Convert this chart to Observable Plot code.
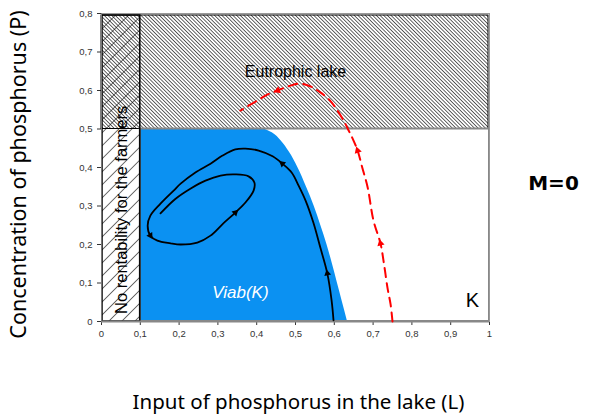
<!DOCTYPE html>
<html>
<head>
<meta charset="utf-8">
<script src="https://cdn.jsdelivr.net/npm/d3@7"></script>
<script src="https://cdn.jsdelivr.net/npm/@observablehq/plot@0.6"></script>
<style>
  html, body { margin: 0; padding: 0; background: #fff; }
</style>
</head>
<body>
<div id="chart"></div>
<script>
// ---- data ----
const xTicks = [0, 0.1, 0.2, 0.3, 0.4, 0.5, 0.6, 0.7, 0.8, 0.9, 1];
const yTicks = [0, 0.1, 0.2, 0.3, 0.4, 0.5, 0.6, 0.7, 0.8];

const noRentL = 0;      // no-rentability strip
const noRentR = 0.1;
const eutroP = 0.5;     // eutrophication threshold
const pMax = 0.8;
const lMax = 1;

// viability kernel right boundary
const viabP = [0, 0.05, 0.10, 0.15, 0.20, 0.25, 0.30, 0.35, 0.40, 0.44, 0.47, 0.49, 0.5];
const viabL = [0.634, 0.621, 0.608, 0.595, 0.581, 0.565, 0.548, 0.528, 0.506, 0.484, 0.462, 0.440, 0.420];

// black (viable) trajectory
const trajL = [0.598, 0.593, 0.582, 0.564, 0.546, 0.526, 0.508, 0.490, 0.466, 0.441, 0.405, 0.371, 0.345, 0.312, 0.281, 0.242, 0.204, 0.186, 0.152, 0.126, 0.119, 0.126, 0.144, 0.178, 0.204, 0.247, 0.281, 0.314, 0.345, 0.371, 0.392, 0.394, 0.379, 0.345, 0.307, 0.268, 0.229, 0.191, 0.152];
const trajP = [0.003, 0.055, 0.125, 0.192, 0.257, 0.314, 0.353, 0.387, 0.410, 0.429, 0.444, 0.449, 0.447, 0.431, 0.410, 0.387, 0.358, 0.340, 0.306, 0.275, 0.249, 0.223, 0.210, 0.203, 0.200, 0.205, 0.223, 0.255, 0.283, 0.309, 0.340, 0.361, 0.377, 0.382, 0.379, 0.366, 0.345, 0.319, 0.281];
const trajArrows = [2, 8, 21, 28];

// red (non-viable) trajectory
const redL = [0.750, 0.745, 0.737, 0.728, 0.719, 0.701, 0.686, 0.672, 0.660, 0.645, 0.637, 0.625, 0.608, 0.588, 0.564, 0.540, 0.513, 0.485, 0.454, 0.425, 0.402, 0.358];
const redP = [0.000, 0.045, 0.088, 0.150, 0.203, 0.262, 0.348, 0.400, 0.444, 0.480, 0.496, 0.520, 0.548, 0.575, 0.595, 0.610, 0.618, 0.612, 0.600, 0.588, 0.574, 0.548];
const redArrows = [4, 8, 18];

const labelsEutro = ["Eutrophic lake"];
const labelsNoRent = ["No rentability for the farmers"];
const labelsViab = ["Viab(K)"];
const labelsK = ["K"];
const yTitle = ["Concentration of phosphorus (P)"];
const xTitle = ["Input of phosphorus in the lake (L)"];
const sideTitle = ["M=0"];

// ---- layout ----
const W = 595, H = 419, ML = 101, MR = 106, MT = 13, MB = 98;
const kx = (W - ML - MR) / lMax;
const ky = (H - MT - MB) / pMax;

const fmt = d => (d === 0 || d === 1) ? String(d) : d3.format(".1f")(d).replace(".", ",");

const trajPts = trajL.map((x, i) => ({x, y: trajP[i]}));
const redPts = redL.map((x, i) => ({x, y: redP[i]}));
const viabPts = viabP.map((y, i) => ({y, x2: viabL[i]}));

function arrows(xs, ys, idx) {
  return idx.map(i => {
    const dx = (xs[i + 1] - xs[i - 1]) * kx;
    const dy = (ys[i + 1] - ys[i - 1]) * ky;
    return {x: xs[i], y: ys[i], r: Math.atan2(dx, dy) * 180 / Math.PI};
  });
}

const plot = Plot.plot({
  width: W, height: H,
  marginLeft: ML, marginRight: MR, marginTop: MT, marginBottom: MB,
  style: {background: "#fff", color: "#333", fontFamily: "Liberation Sans, Arial, sans-serif", fontSize: "9.5px"},
  x: {domain: [0, lMax], ticks: xTicks, tickFormat: fmt, tickSize: 4, label: null},
  y: {domain: [0, pMax], ticks: yTicks, tickFormat: fmt, tickSize: 4, label: null},
  marks: [
    // K box background
    Plot.rect([{x1: noRentR, x2: lMax, y1: 0, y2: eutroP}], {x1: "x1", x2: "x2", y1: "y1", y2: "y2", fill: "#fff"}),
    // viability kernel
    Plot.areaX(viabPts, {y: "y", x1: noRentR, x2: "x2", fill: "#0b91f2", curve: "monotone-y"}),
    // eutrophic region
    Plot.rect([{x1: noRentL, x2: lMax, y1: eutroP, y2: pMax}], {x1: "x1", x2: "x2", y1: "y1", y2: "y2", fill: "url(#fineHatch)", stroke: "#000", strokeWidth: 1, insetTop: 2, insetRight: 1}),
    // K box outline
    Plot.rect([{x1: noRentR, x2: lMax, y1: 0, y2: eutroP}], {x1: "x1", x2: "x2", y1: "y1", y2: "y2", fill: "none", stroke: "#888", strokeWidth: 2}),
    // no-rentability strip
    Plot.rect([{x1: noRentL, x2: noRentR, y1: 0, y2: pMax}], {x1: "x1", x2: "x2", y1: "y1", y2: "y2", fill: "url(#coarseHatch)", stroke: "#000", strokeWidth: 1.5, insetLeft: 1, insetTop: 2}),
    Plot.frame({stroke: "#999"}),
    Plot.ruleY([0], {stroke: "#888", strokeWidth: 2}),
    Plot.ruleX([0], {stroke: "#777", strokeWidth: 1}),
    // trajectories
    Plot.line(trajPts, {x: "x", y: "y", stroke: "#000", strokeWidth: 1.8, curve: "catmull-rom"}),
    Plot.dot(arrows(trajL, trajP, trajArrows), {x: "x", y: "y", rotate: "r", symbol: "triangle2", r: 3.3, fill: "#000"}),
    Plot.line(redPts, {x: "x", y: "y", stroke: "#f00", strokeWidth: 2, strokeDasharray: "9,6", curve: "catmull-rom"}),
    Plot.dot(arrows(redL, redP, redArrows), {x: "x", y: "y", rotate: "r", symbol: "triangle2", r: 3.5, fill: "#f00"}),
    // labels
    Plot.text(labelsEutro, {x: [0.5], y: [0.648], fontSize: 16, fill: "#000", fontFamily: "Liberation Sans"}),
    Plot.text(labelsNoRent, {x: [0.052], y: [0.29], rotate: -90, fontSize: 16.5, fill: "#000", fontFamily: "Liberation Sans"}),
    Plot.text(labelsViab, {x: [0.358], y: [0.075], fontSize: 17, fontStyle: "italic", fill: "#fff", fontFamily: "Liberation Sans"}),
    Plot.text(labelsK, {x: [0.956], y: [0.055], fontSize: 20, fill: "#000", fontFamily: "Liberation Sans"}),
    Plot.text(yTitle, {frameAnchor: "left", textAnchor: "middle", rotate: -90, dx: -82, dy: 7, fontSize: 21.5, fill: "#000", fontFamily: "Noto Sans"}),
    Plot.text(xTitle, {frameAnchor: "bottom", textAnchor: "middle", dx: 3, dy: 87, fontSize: 20.5, fill: "#000", fontFamily: "Noto Sans"}),
    Plot.text(sideTitle, {frameAnchor: "right", dx: 64, dy: 16, fontSize: 20, fontWeight: "bold", textAnchor: "middle", fill: "#000", fontFamily: "DejaVu Sans"})
  ]
});

// hatch patterns
const NS = "http://www.w3.org/2000/svg";
const defs = document.createElementNS(NS, "defs");
function pattern(id, size, angle, sw, bg) {
  const p = document.createElementNS(NS, "pattern");
  p.setAttribute("id", id);
  p.setAttribute("patternUnits", "userSpaceOnUse");
  p.setAttribute("width", size);
  p.setAttribute("height", size);
  p.setAttribute("patternTransform", `rotate(${angle})`);
  if (bg) {
    const r = document.createElementNS(NS, "rect");
    r.setAttribute("width", size); r.setAttribute("height", size); r.setAttribute("fill", bg);
    p.appendChild(r);
  }
  const l = document.createElementNS(NS, "line");
  l.setAttribute("x1", 0); l.setAttribute("y1", 0);
  l.setAttribute("x2", 0); l.setAttribute("y2", size);
  l.setAttribute("stroke", "#000"); l.setAttribute("stroke-width", sw);
  p.appendChild(l);
  return p;
}
defs.appendChild(pattern("fineHatch", 2.6, -45, 1.2, "#fff"));
defs.appendChild(pattern("coarseHatch", 9.2, 45, 1.1, null));
plot.insertBefore(defs, plot.firstChild);

document.getElementById("chart").appendChild(plot);
</script>
</body>
</html>
